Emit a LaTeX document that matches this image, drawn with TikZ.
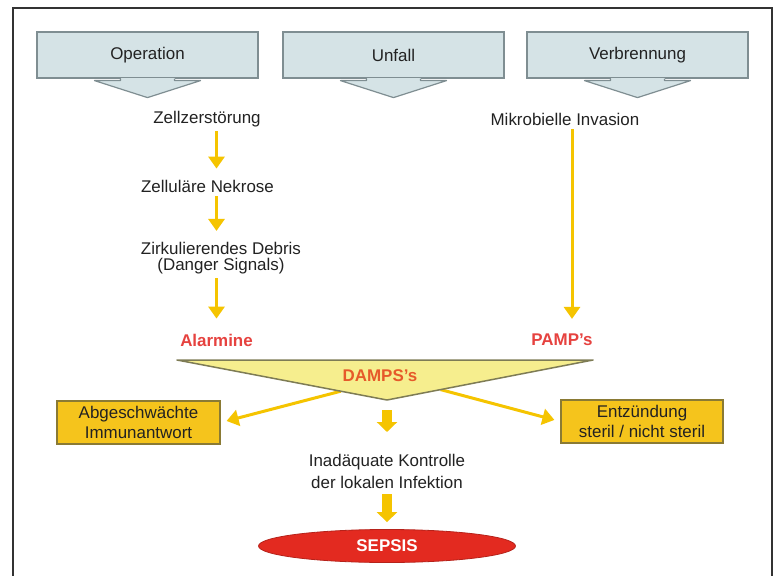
\documentclass[tikz,border=0pt]{standalone}
\usepackage{fontspec}
\setmainfont{Liberation Sans}
\usetikzlibrary{arrows.meta,calc,shapes.geometric}
\definecolor{srcfill}{HTML}{D5E3E6}
\definecolor{srcline}{HTML}{7F8E92}
\definecolor{ygold}{HTML}{F5C400}
\definecolor{tri}{HTML}{F6EE8E}
\definecolor{triline}{HTML}{7E7C55}
\definecolor{boxfill}{HTML}{F5C41C}
\definecolor{boxline}{HTML}{8A7A34}
\definecolor{alred}{HTML}{E6423F}
\definecolor{dmred}{HTML}{E65A2A}
\definecolor{sepred}{HTML}{E32A20}
\definecolor{txtc}{HTML}{222222}
\tikzset{
  srcbox/.style={draw=srcline, fill=srcfill, line width=1.2bp, minimum width=221bp, minimum height=46bp, inner sep=0pt, font=\fontsize{17}{18}\selectfont, text=txtc},
  txt/.style={inner sep=0pt, font=\fontsize{17}{16}\selectfont, text=txtc, align=center},
  redtxt/.style={inner sep=0pt, font=\fontsize{17}{18}\selectfont\bfseries, text=alred},
  goldbox/.style={draw=boxline, fill=boxfill, line width=1.5bp, minimum height=43bp, inner sep=0pt, font=\fontsize{17}{20}\selectfont, text=txtc, align=center},
  yarrow/.style={draw=ygold, line width=3bp, -{Triangle[width=16bp,length=12bp]}},
  barrow/.style={draw=ygold, line width=10bp, -{Triangle[width=20bp,length=10bp]}},
}
\begin{document}
\begin{tikzpicture}[x=1bp,y=-1bp]
\useasboundingbox (0,0) rectangle (782,576);
\fill[white] (0,0) rectangle (782,576);
\begin{scope}
\clip (0,0) rectangle (782,576);
\draw[line width=1.5bp, draw=black!80] (13,8) rectangle (772,600);
\end{scope}
% source boxes
\node[srcbox] (op) at (147.5,55) {Operation};
\node[srcbox] (un) at (393.5,55) {Unfall};
\node[srcbox] (vb) at (637.5,55) {Verbrennung};
\foreach \n in {op,un,vb} {
  \fill[srcfill] ($(\n.south)+(-53,2)$) -- ($(\n.south)+(53,2)$) -- ($(\n.south)+(0,19)$) -- cycle;
  \fill[srcfill] ($(\n.south)+(-27,-1)$) rectangle ($(\n.south)+(27,2.5)$);
  \draw[srcline, line width=1.2bp, line join=round] ($(\n.south)+(-27,0)$) -- ($(\n.south)+(-27,2)$) -- ($(\n.south)+(-53,2)$) -- ($(\n.south)+(0,19)$) -- ($(\n.south)+(53,2)$) -- ($(\n.south)+(27,2)$) -- ($(\n.south)+(27,0)$);
}
% left chain
\node[txt] (zz) at (207,119) {Zellzerstörung};
\node[txt] (zn) at (207.5,186) {Zelluläre Nekrose};
\node[txt] (zd) at (221,258) {Zirkulierendes Debris\\(Danger Signals)};
\node[redtxt] (al) at (216.5,340) {Alarmine};
% right chain
\node[txt] (mi) at (565,119) {Mikrobielle Invasion};
\node[redtxt] (pa) at (562,340) {PAMP's};
% arrows
\draw[yarrow, shorten <=4bp, shorten >=11bp] (zz.south -| al) -- (zn.north -| al);
\draw[yarrow, shorten <=4bp, shorten >=11bp] (zn.south -| al) -- (zd.north -| al);
\draw[yarrow, shorten <=4bp, shorten >=15bp] (zd.south -| al) -- (al.north);
\draw[yarrow, shorten <=4bp, shorten >=15bp] (mi.south -| 572,0) -- (pa.north -| 572,0);
% boxes
\node[goldbox, minimum width=163bp] (ab) at (138.5,422.5) {Abgeschwächte\\Immunantwort};
\node[goldbox, minimum width=162bp] (en) at (642,421.5) {Entzündung\\steril / nicht steril};
% triangle
\coordinate (tl) at (177,360);
\coordinate (tr) at (593,360);
\coordinate (tb) at (387,400);
\draw[yarrow, shorten >=6bp] ($(tl)!0.78!(tb)$) -- (ab.east);
\draw[yarrow, shorten >=6bp] ($(tr)!0.74!(tb)$) -- (en.west);
\draw[fill=tri, draw=triline, line width=1.5bp, line join=round] (tl) -- (tr) -- (tb) -- cycle;
\node[inner sep=0pt, font=\fontsize{17}{18}\selectfont\bfseries, text=dmred] (dm) at (380,376) {DAMPS's};
% bottom
\node[txt, font=\fontsize{17}{22}\selectfont] (ia) at (387,471) {Inadäquate Kontrolle\\der lokalen Infektion};
\node[ellipse, fill=sepred, draw=sepred!80!black, line width=0.8bp, minimum width=257bp, minimum height=33bp, inner sep=0pt, font=\fontsize{17}{18}\selectfont\bfseries, text=white] (se) at (387,546) {SEPSIS};
\draw[barrow, shorten <=10bp, shorten >=1bp] (tb) -- ($(tb)+(0,33)$) coordinate (b1);
\draw[barrow, shorten <=6bp, shorten >=7bp] (ia.south) -- (se.north);
\end{tikzpicture}
\end{document}
